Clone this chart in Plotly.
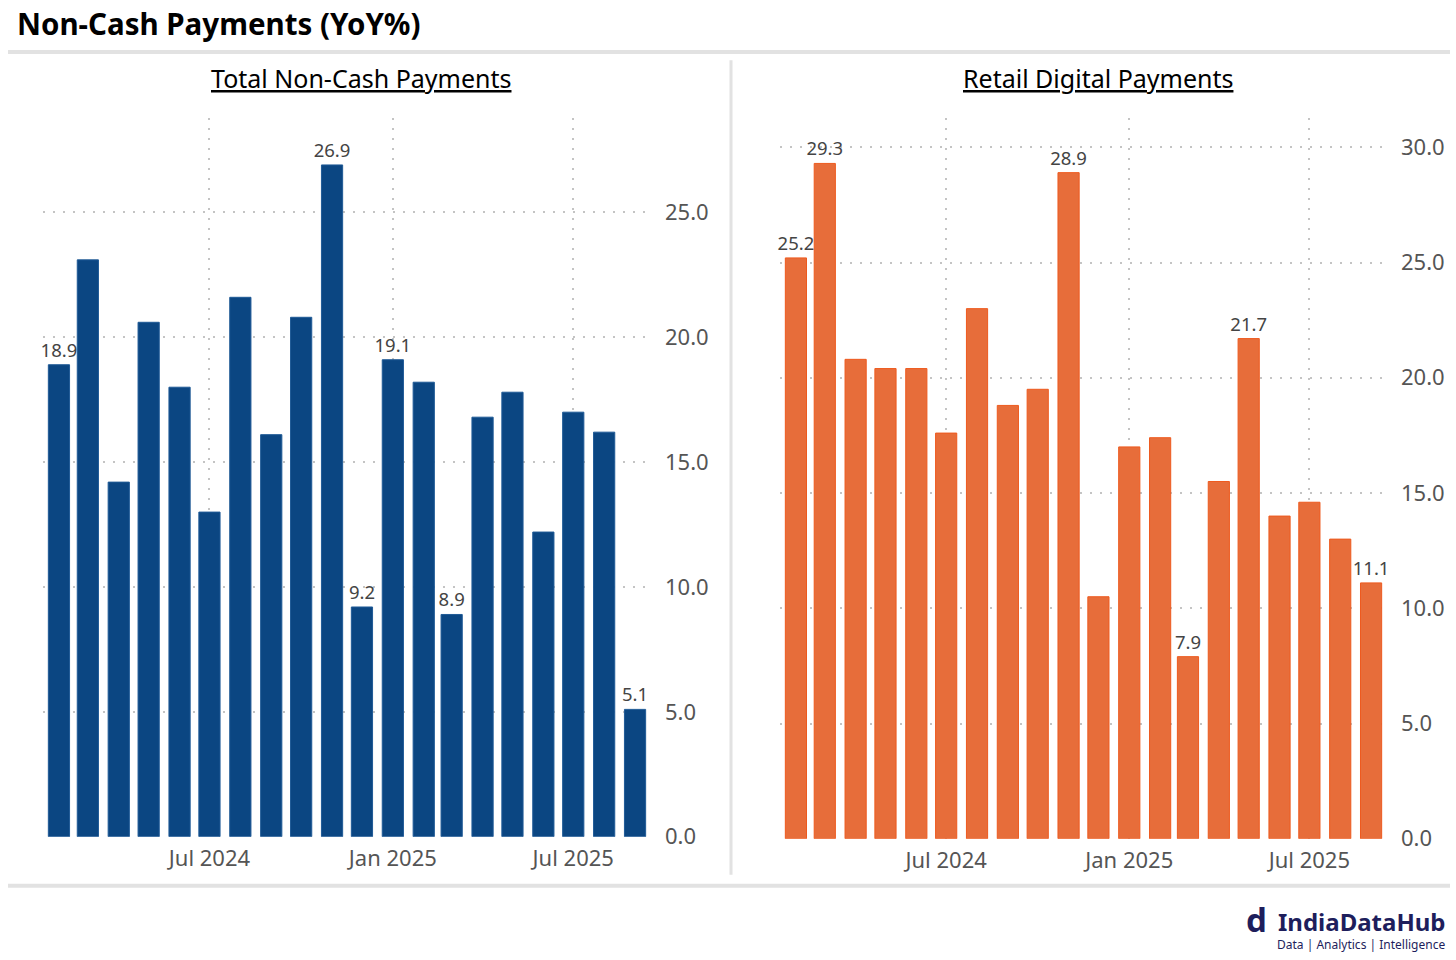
import plotly.graph_objects as go

months = ["2024-02-01", "2024-03-01", "2024-04-01", "2024-05-01", "2024-06-01",
          "2024-07-01", "2024-08-01", "2024-09-01", "2024-10-01", "2024-11-01",
          "2024-12-01", "2025-01-01", "2025-02-01", "2025-03-01", "2025-04-01",
          "2025-05-01", "2025-06-01", "2025-07-01", "2025-08-01", "2025-09-01"]

total_noncash = [18.9, 23.1, 14.2, 20.6, 18.0, 13.0, 21.6, 16.1, 20.8, 26.9,
                 9.2, 19.1, 18.2, 8.9, 16.8, 17.8, 12.2, 17.0, 16.2, 5.1]
total_labels = ["18.9", "", "", "", "", "", "", "", "", "26.9",
                "9.2", "19.1", "", "8.9", "", "", "", "", "", "5.1"]

retail_digital = [25.2, 29.3, 20.8, 20.4, 20.4, 17.6, 23.0, 18.8, 19.5, 28.9,
                  10.5, 17.0, 17.4, 7.9, 15.5, 21.7, 14.0, 14.6, 13.0, 11.1]
retail_labels = ["25.2", "29.3", "", "", "", "", "", "", "", "28.9",
                 "", "", "", "7.9", "", "21.7", "", "", "", "11.1"]

y_ticks_left = [0, 5, 10, 15, 20, 25]
y_ticks_right = [0, 5, 10, 15, 20, 25, 30]

W, H = 1456, 976   # page is shown slightly squeezed vertically; positions below are in 960-px terms
REF_H = 960

def px(x):
    return x / W

def py(y):
    return 1 - y / REF_H

FONT = "Noto Sans"
BLUE = "#0B4682"
ORANGE = "#E76D3A"
GRID = "#C4C4C4"
TICK = "#555555"
DASH = "2px,8px"

fig = go.Figure()
fig.add_trace(go.Bar(
    x=months, y=total_noncash, text=total_labels, textposition="outside",
    textfont=dict(family=FONT, size=18.5, color="#444444"), cliponaxis=False,
    marker=dict(color=BLUE, line=dict(color="#1F5A96", width=1)),
    xaxis="x", yaxis="y", showlegend=False, hoverinfo="x+y"))
fig.add_trace(go.Bar(
    x=months, y=retail_digital, text=retail_labels, textposition="outside",
    textfont=dict(family=FONT, size=18.5, color="#444444"), cliponaxis=False,
    marker=dict(color=ORANGE, line=dict(color="#EE5A1E", width=1)),
    xaxis="x2", yaxis="y2", showlegend=False, hoverinfo="x+y"))

xcommon = dict(type="date", tick0="2024-01-01", dtick="M6", tickformat="%b %Y",
               showgrid=True, gridcolor=GRID, griddash=DASH, gridwidth=2,
               tickfont=dict(family=FONT, size=22, color=TICK),
               showline=False, zeroline=False, ticks="", ticklabelstandoff=6,
               range=["2024-01-16", "2025-09-16"])
ycommon = dict(side="right", showgrid=True, gridcolor=GRID, griddash=DASH, gridwidth=2,
               tickformat=".1f", tickfont=dict(family=FONT, size=22, color=TICK),
               zeroline=False, showline=False, ticks="", ticklabelstandoff=14)

fig.update_layout(
    width=W, height=H,
    margin=dict(l=0, r=0, t=0, b=0),
    paper_bgcolor="white", plot_bgcolor="white",
    bargap=0.24,
    uniformtext=dict(minsize=18.5, mode="show"),
    font=dict(family=FONT),
    xaxis=dict(domain=[px(43), px(650)], anchor="y", **xcommon),
    yaxis=dict(domain=[py(835), py(118)], anchor="x", range=[0, 28.77],
               tickvals=y_ticks_left, **ycommon),
    xaxis2=dict(domain=[px(780), px(1386)], anchor="y2", **xcommon),
    yaxis2=dict(domain=[py(837), py(118)], anchor="x2", range=[0, 31.26],
                tickvals=y_ticks_right, **ycommon),
)

# Title and subplot titles
fig.add_annotation(text="<b>Non-Cash Payments (YoY%)</b>", xref="paper", yref="paper",
                   x=px(15), y=py(23), xanchor="left", yanchor="middle", showarrow=False,
                   font=dict(family=FONT, size=29.5, color="black"))
fig.add_annotation(text="<u>Total Non-Cash Payments</u>", xref="paper", yref="paper",
                   x=px(361), y=py(78), xanchor="center", yanchor="middle", showarrow=False,
                   font=dict(family=FONT, size=25, color="black"))
fig.add_annotation(text="<u>Retail Digital Payments</u>", xref="paper", yref="paper",
                   x=px(1098), y=py(78), xanchor="center", yanchor="middle", showarrow=False,
                   font=dict(family=FONT, size=25, color="black"))

# Separator lines
fig.add_shape(type="line", xref="paper", yref="paper", x0=px(8), x1=px(1450),
              y0=py(52), y1=py(52), line=dict(color="#E2E2E2", width=4))
fig.add_shape(type="line", xref="paper", yref="paper", x0=px(8), x1=px(1450),
              y0=py(884), y1=py(884), line=dict(color="#E2E2E2", width=4))
fig.add_shape(type="line", xref="paper", yref="paper", x0=px(731), x1=px(731),
              y0=py(60), y1=py(873), line=dict(color="#E2E2E2", width=3))

# Logo
NAVY = "#1E1E5C"
fig.add_annotation(text="<b>d</b>", xref="paper", yref="paper",
                   x=px(1256), y=py(918), xanchor="center", yanchor="middle", showarrow=False,
                   font=dict(family=FONT, size=33, color=NAVY))
fig.add_annotation(text="<b>IndiaDataHub</b>", xref="paper", yref="paper",
                   x=px(1448), y=py(920), xanchor="right", yanchor="middle", showarrow=False,
                   font=dict(family=FONT, size=24, color=NAVY))
fig.add_annotation(text="Data | Analytics | Intelligence", xref="paper", yref="paper",
                   x=px(1447), y=py(943), xanchor="right", yanchor="middle", showarrow=False,
                   font=dict(family=FONT, size=12, color=NAVY))

fig.write_html("out.html", config={"displayModeBar": False},
               post_script="document.body.style.margin='0px';document.body.style.overflow='hidden';")
